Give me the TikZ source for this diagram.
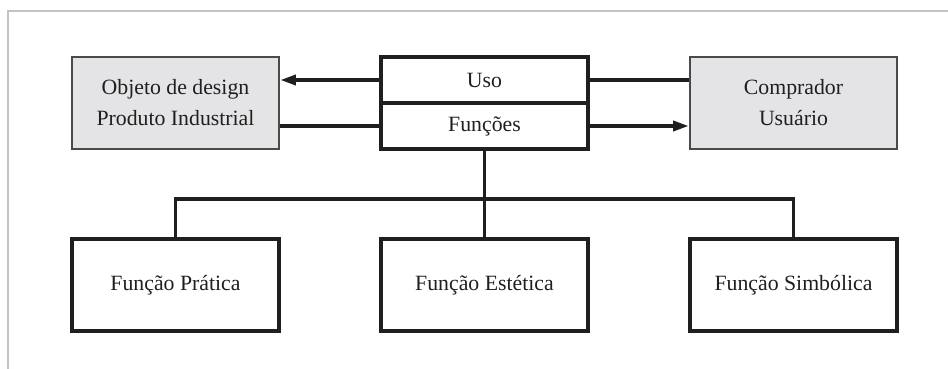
\documentclass[tikz,border=0pt]{standalone}
\usepackage{fontspec}
\setmainfont{Liberation Serif}
\usetikzlibrary{arrows.meta, positioning, calc}
\definecolor{preto}{HTML}{1F1F1F}
\definecolor{cinzafundo}{HTML}{E4E4E6}
\definecolor{cinzaborda}{HTML}{4A4A4A}
\definecolor{cinzamoldura}{HTML}{C4C4C4}

\begin{document}
\begin{tikzpicture}[
  x=0.02cm, y=-0.02cm,
  font=\fontsize{12.4}{17.6}\selectfont,
  caixa/.style={draw=preto, line width=2.2pt, minimum width=4.14cm, minimum height=1.84cm,
                align=center, inner sep=2pt, text=preto},
  cinza/.style={caixa, fill=cinzafundo, draw=cinzaborda, line width=1.1pt},
  metade/.style={caixa, minimum height=0.92cm},
  linha/.style={draw=preto, line width=2.2pt},
  seta/.style={linha, -{Triangle[length=9pt,width=5.5pt]}},
  moldura/.style={draw=cinzamoldura, line width=1.2pt}
]
\useasboundingbox (0,0) rectangle (948,369);

\draw[moldura] (8,369) -- (8,11) -- (948,11);

\node[cinza]  (objeto)    at (175.5,103) {Objeto de design\\Produto Industrial};
\node[metade] (uso)       at (484.5,80)  {Uso};
\node[metade] (funcoes)   at (484.5,126) {Funções};
\node[cinza]  (comprador) at (793.5,103) {Comprador\\Usuário};

\node[caixa] (pratica)   at (175.5,285) {Função Prática};
\node[caixa] (estetica)  at (484.5,285) {Função Estética};
\node[caixa] (simbolica) at (793.5,285) {Função Simbólica};

\draw[seta]  (uso.west) -- (uso.west -| objeto.east);
\draw[linha] (objeto.east |- funcoes.west) -- (funcoes.west);
\draw[linha] (uso.east) -- (uso.east -| comprador.west);
\draw[seta]  (funcoes.east) -- (funcoes.east -| comprador.west);

% barramento das funcoes
\coordinate (barra) at (484.5,199);
\draw[linha] (funcoes.south) -- (estetica.north);
\draw[linha] (pratica.north) |- (barra) -| (simbolica.north);

\end{tikzpicture}
\end{document}
